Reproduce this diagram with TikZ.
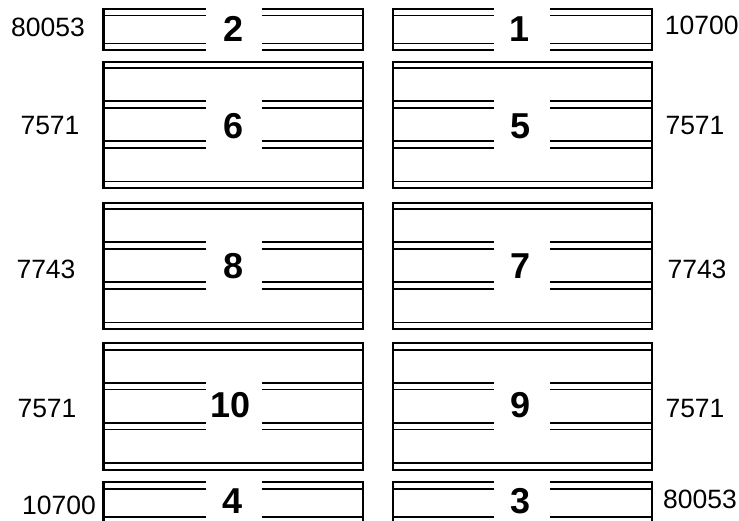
\documentclass[tikz,border=0pt]{standalone}
\usepackage{fontspec}
\setmainfont{Liberation Sans}
\usepackage{tikz}

\begin{document}
\begin{tikzpicture}[
    x=1pt, y=-1pt,
    wall/.style={line width=2.2pt},
    rail/.style={line width=1.7pt},
    numlab/.style={font=\fontsize{26.5}{30}\selectfont, inner sep=0pt},
    baylab/.style={font=\fontsize{36}{40}\selectfont\bfseries, inner sep=0pt},
  ]
  \useasboundingbox (0,0) rectangle (739,521);
  \clip (0,0) rectangle (739,521);

  % === Columns: left edge / right edge / gap start / gap end ===
  \foreach \l/\r/\ga/\gb in {103.5/363/206/261.7, 392.7/651.7/494/550} {
    % short bays (top and bottom row)
    \foreach \t in {9, 482.3} {
      \draw[wall] (\ga,\t) -- (\l,\t) -- (\l,\t+41) -- (\ga,\t+41);
      \draw[wall] (\gb,\t) -- (\r,\t) -- (\r,\t+41) -- (\gb,\t+41);
      \foreach \d in {6.6, 34.4}
        \draw[rail] (\l,\t+\d) -- (\ga,\t+\d) (\gb,\t+\d) -- (\r,\t+\d);
    }
    % tall bays
    \foreach \t in {61.7, 202.7, 343.3} {
      \draw[wall] (\l,\t) rectangle (\r,\t+126.3);
      \foreach \d in {6.6, 119.7}
        \draw[rail] (\l,\t+\d) -- (\r,\t+\d);
      \foreach \d in {39.5, 46.3, 79.5, 86.3}
        \draw[rail] (\l,\t+\d) -- (\ga,\t+\d) (\gb,\t+\d) -- (\r,\t+\d);
    }
  }

  % Bay numbers
  \foreach \n/\x/\y in {2/233.8/29, 1/520/29, 6/233.8/126, 5/521/126,
                        8/233.8/266, 7/521/266, 10/231/405.5, 9/521/405.5,
                        4/232.5/501, 3/521/501}
    \node[baylab] (bay\n) at (\x,\y) {\n};

  % Side values
  \node[numlab] (l1) at (48,27.7) {80053};
  \node[numlab] (l2) at (50,125.5) {7571};
  \node[numlab] (l3) at (46,269) {7743};
  \node[numlab] (l4) at (47,409) {7571};
  \node[numlab] (l5) at (59,505) {10700};
  \node[numlab] (r1) at (701.7,25.5) {10700};
  \node[numlab] (r2) at (695,126) {7571};
  \node[numlab] (r3) at (697,269) {7743};
  \node[numlab] (r4) at (695,409) {7571};
  \node[numlab] (r5) at (700,499) {80053};

\end{tikzpicture}
\end{document}
